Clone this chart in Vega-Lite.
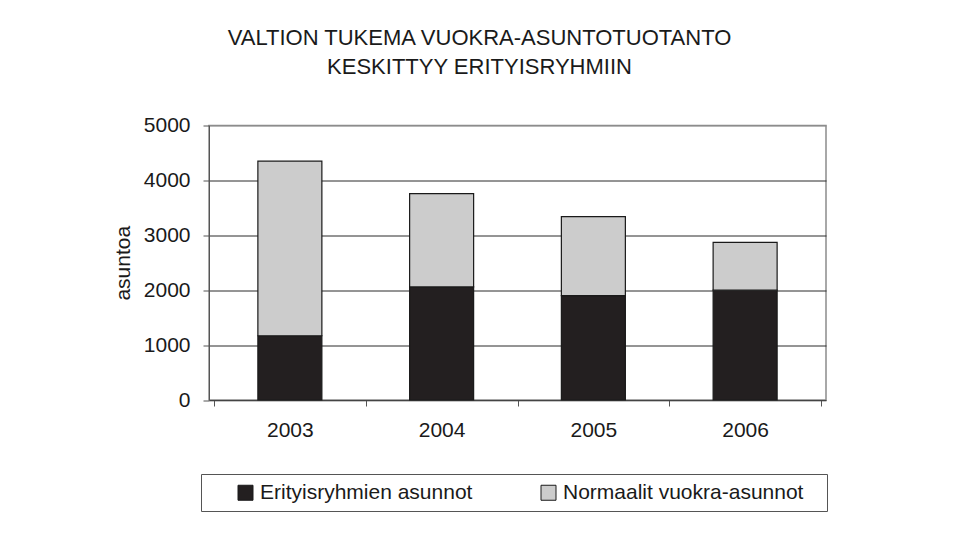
{
  "$schema": "https://vega.github.io/schema/vega-lite/v6.json",
  "width": 617,
  "height": 274.5,
  "autosize": {"type": "none"},
  "padding": {"left": 209, "top": 125.5, "right": 153, "bottom": 139},
  "background": "white",
  "title": {
    "text": ["VALTION TUKEMA VUOKRA-ASUNTOTUOTANTO", "KESKITTYY ERITYISRYHMIIN"],
    "font": "Liberation Sans",
    "fontSize": 22,
    "fontWeight": "normal",
    "color": "#1a1a1a",
    "lineHeight": 28.5,
    "anchor": "middle",
    "frame": "group",
    "dx": -38,
    "offset": 36
  },
  "data": {
    "values": [
      {"year": 2003, "series": "Erityisryhmien asunnot", "value": 1170},
      {"year": 2003, "series": "Normaalit vuokra-asunnot", "value": 3180},
      {"year": 2004, "series": "Erityisryhmien asunnot", "value": 2060},
      {"year": 2004, "series": "Normaalit vuokra-asunnot", "value": 1700},
      {"year": 2005, "series": "Erityisryhmien asunnot", "value": 1900},
      {"year": 2005, "series": "Normaalit vuokra-asunnot", "value": 1440},
      {"year": 2006, "series": "Erityisryhmien asunnot", "value": 2000},
      {"year": 2006, "series": "Normaalit vuokra-asunnot", "value": 870}
    ]
  },
  "mark": {"type": "bar", "width": 64, "stroke": "#1a1a1a", "strokeWidth": 1.2},
  "encoding": {
    "x": {
      "field": "year",
      "type": "quantitative",
      "scale": {"domain": [2002.5, 2006.5], "nice": false, "zero": false},
      "axis": {
        "title": null,
        "values": [2002.5, 2003, 2003.5, 2004, 2004.5, 2005, 2005.5, 2006, 2006.5],
        "labelExpr": "datum.value % 1 == 0 ? toString(datum.value) : ''",
        "tickOpacity": {"condition": {"test": "datum.value % 1 != 0", "value": 1}, "value": 0},
        "tickSize": 6,
        "tickColor": "#555555",
        "tickWidth": 1,
        "domainColor": "#444444",
        "domainWidth": 1,
        "grid": false,
        "labelPadding": 13,
        "labelFont": "Liberation Sans",
        "labelFontSize": 21,
        "labelColor": "#1a1a1a",
        "labelFlush": false,
        "labelOverlap": false
      }
    },
    "y": {
      "field": "value",
      "type": "quantitative",
      "stack": "zero",
      "scale": {"domain": [0, 5000], "nice": false},
      "axis": {
        "title": "asuntoa",
        "titleFont": "Liberation Sans",
        "titleFontSize": 21,
        "titleFontWeight": "normal",
        "titleColor": "#1a1a1a",
        "titlePadding": 10,
        "values": [0, 1000, 2000, 3000, 4000, 5000],
        "format": "d",
        "tickSize": 6,
        "tickColor": "#555555",
        "domainColor": "#555555",
        "labelPadding": 13,
        "labelFont": "Liberation Sans",
        "labelFontSize": 21,
        "labelColor": "#1a1a1a",
        "grid": true,
        "gridColor": {"condition": {"test": "datum.value == 5000 || datum.value == 0", "value": "#8c8c8c"}, "value": "#2a2a2a"},
        "gridWidth": 1
      }
    },
    "color": {
      "field": "series",
      "type": "nominal",
      "scale": {
        "domain": ["Erityisryhmien asunnot", "Normaalit vuokra-asunnot"],
        "range": ["#231f20", "#cccccc"]
      },
      "legend": {
        "title": null,
        "orient": "none",
        "legendX": -8,
        "legendY": 348.5,
        "direction": "horizontal",
        "columns": 2,
        "columnPadding": 39,
        "padding": 8,
        "symbolOffset": 26,
        "labelOffset": 4,
        "labelExpr": "datum.label == 'Normaalit vuokra-asunnot' ? datum.label + '\u2800' : datum.label",
        "strokeColor": "#555555",
        "symbolType": "square",
        "symbolSize": 225,
        "symbolStrokeColor": "#1a1a1a",
        "symbolStrokeWidth": 1,
        "symbolOpacity": 1,
        "labelFont": "Liberation Sans",
        "labelFontSize": 21,
        "labelColor": "#1a1a1a",
        "labelLimit": 400
      }
    },
    "order": {"field": "series", "sort": "ascending"}
  },
  "config": {
    "view": {"stroke": "#8c8c8c", "strokeWidth": 1.5}
  }
}
